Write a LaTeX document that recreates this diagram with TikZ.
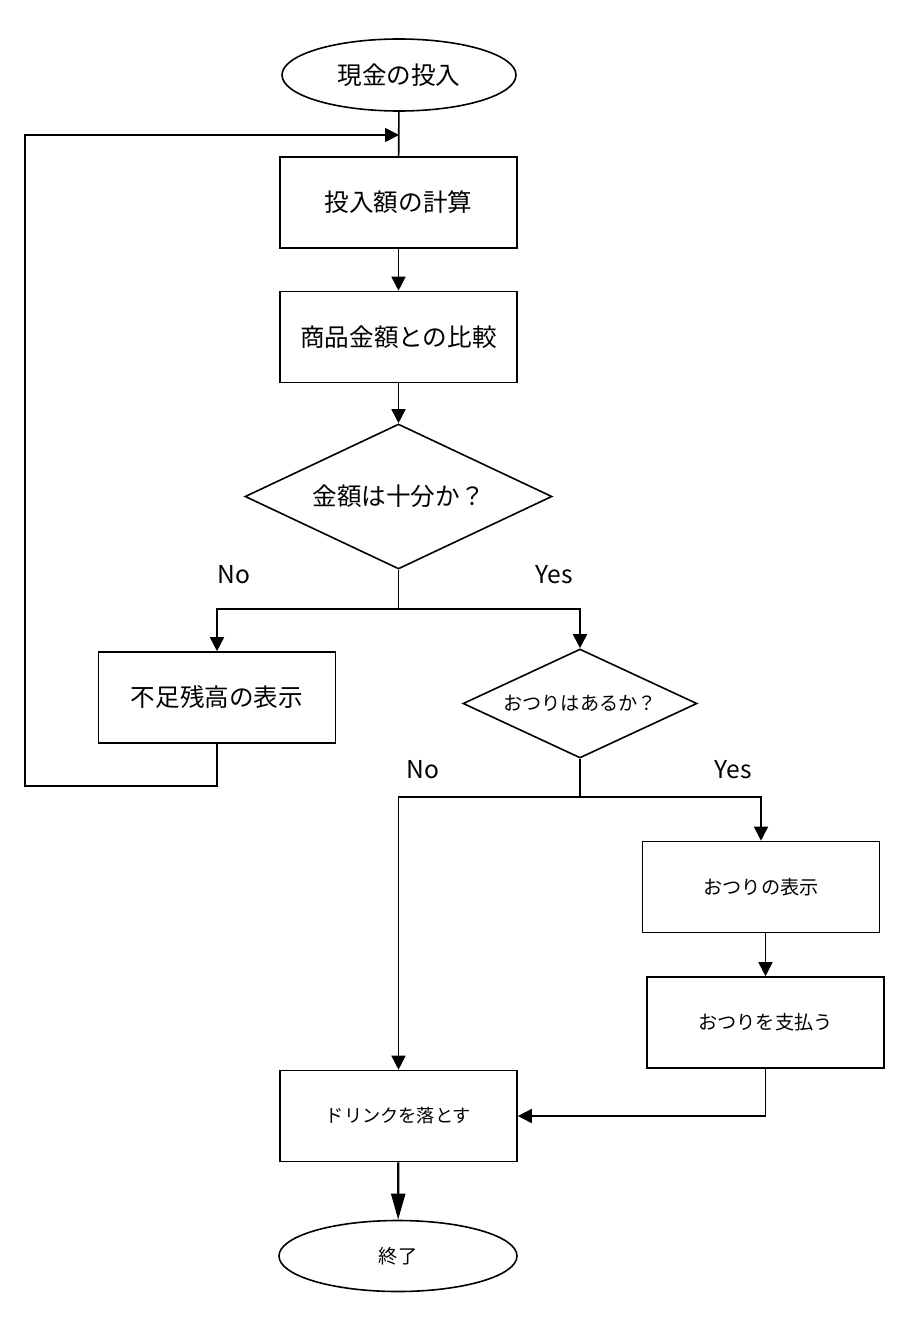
\documentclass[tikz,border=0pt]{standalone}
\usepackage{fontspec}
\setmainfont{Noto Sans CJK JP}
\usetikzlibrary{arrows.meta,shapes.geometric,calc}

\begin{document}
\begin{tikzpicture}[x=0.5pt,y=-0.5pt,line width=0.8pt,
  >={Triangle[length=7pt,width=7pt]},
  big/.style={font=\fontsize{12.3}{14}\selectfont},
  sml/.style={font=\fontsize{9.6}{12}\selectfont},
  proc/.style={draw,minimum width=118.5pt,minimum height=45.5pt,inner sep=0pt},
  term/.style={draw,ellipse,minimum width=117pt,minimum height=36pt,inner sep=0pt},
  dec/.style={draw,diamond,inner sep=0pt}]
  \useasboundingbox (0,0) rectangle (899,1327);
  \node[term,big](start) at (399,75){現金の投入};
  \node[proc,big](calc) at (398.5,202.5){投入額の計算};
  \node[proc,big](cmp) at (398.5,337){商品金額との比較};
  \node[dec,big,aspect=2.12,minimum width=153.5pt,minimum height=72.5pt](enough) at (398.5,496.5){金額は十分か？};
  \node[proc,big](short) at (217,697.5){不足残高の表示};
  \node[dec,sml,aspect=2.15,minimum width=117pt,minimum height=54.5pt](change) at (580,703.5){おつりはあるか？};
  \node[proc,sml](showc) at (761,887){おつりの表示};
  \node[proc,sml](pay) at (765.5,1022.5){おつりを支払う};
  \node[proc,sml,font=\fontsize{9.1}{12}\selectfont](drop) at (398.5,1116){ドリンクを落とす};
  \node[term,sml,minimum width=119pt,minimum height=35.5pt](end) at (398,1256){終了};
  % main line
  \coordinate (join) at (399,135);
  \draw (start) -- (calc);
  \draw[->] (calc) -- (cmp);
  \draw[->] (cmp) -- (enough);
  % first branch
  \coordinate (s1) at (398.5,609);
  \draw (enough.south) -- (s1);
  \draw[->] (s1) -| (short.north);
  \draw[->] (s1) -| (change.north);
  \node[big](no1) at (234,575){No};
  \node[big](yes1) at (554,575){Yes};
  % back to the top
  \coordinate (lp) at (25,786);
  \draw[->] (short.south) |- (lp) |- (join);
  % second branch
  \coordinate (s2) at (580,797);
  \draw (change.south) -- (s2);
  \draw[->] (s2) -| (drop.north);
  \draw[->] (s2) -| (showc.north);
  \node[big](no2) at (423,770){No};
  \node[big](yes2) at (733,770){Yes};
  \draw[->] (pay.north |- showc.south) -- (pay.north);
  \draw[->] (pay.south) |- (drop.east);
  \draw[line width=1.1pt,-{Triangle[length=13pt,width=7pt]}] (drop) -- (end);
\end{tikzpicture}
\end{document}
